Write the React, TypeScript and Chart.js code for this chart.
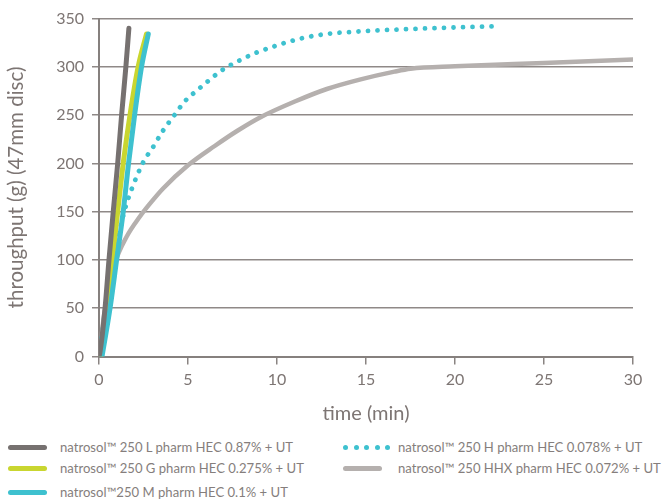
import React, { useEffect, useRef } from "react";
import { Chart, registerables } from "chart.js";

Chart.register(...registerables);

const seriesLabels = [
  "natrosol™ 250 L pharm HEC 0.87% + UT",
  "natrosol™ 250 G pharm HEC 0.275% + UT",
  "natrosol™250 M pharm HEC 0.1% + UT",
  "natrosol™ 250 H pharm HEC 0.078% + UT",
  "natrosol™ 250 HHX pharm HEC 0.072% + UT",
];

// time (min) / throughput (g)
const lTime = [0, 0.06, 0.34, 0.56, 0.8, 1.05, 1.27, 1.51, 1.68];
const lThroughput = [0, 5, 50, 100, 150, 200, 250, 300, 340];

const gTime = [0.08, 0.49, 0.75, 1.05, 1.36, 1.74, 2.2, 2.67];
const gThroughput = [0, 50, 100, 150, 200, 250, 300, 334];

const mTime = [0.17, 0.62, 0.99, 1.36, 1.66, 2.0, 2.39, 2.77];
const mThroughput = [0, 50, 100, 150, 200, 250, 300, 334];

const hTime = [0, 0.3, 0.6, 0.9, 1.08, 1.27, 1.46, 1.83, 2.48, 3.04, 3.6, 4.2, 4.81, 5.47, 6.12, 6.87, 7.84, 8.76, 9.8, 11.5, 12.8, 15, 18.8, 22.4];
const hThroughput = [0, 40, 80, 110, 124, 139, 153, 173, 201, 217, 234, 249, 264, 275, 285, 296, 306, 314, 321, 330, 334, 337, 340, 342];

const hhxTime = [0, 0.06, 0.24, 0.45, 0.9, 1.55, 2.3, 2.85, 3.6, 5, 6.5, 7.8, 9.1, 11, 12.8, 14.7, 16.6, 17.5, 20, 25, 30];
const hhxThroughput = [0, 4, 37, 62, 97, 124, 145, 158, 174, 198, 218, 234, 248, 264, 277, 287, 295, 298, 300.5, 304, 307.5];

const xTicks = [0, 5, 10, 15, 20, 25, 30];
const yTicks = [0, 50, 100, 150, 200, 250, 300, 350];

const colors = ["#767170", "#c9d630", "#3ec1cf", "#3ec1cf", "#b5b0ae"];
const textColor = "#7d7573";
const fontFamily = "Lato, 'DejaVu Sans', sans-serif";

const toPoints = (xs: number[], ys: number[]) => xs.map((x, i) => ({ x, y: ys[i] }));

export default function App() {
  const ref = useRef<HTMLCanvasElement | null>(null);

  useEffect(() => {
    document.body.style.margin = "0";
    if (!ref.current) return;
    const common = {
      pointRadius: 0,
      tension: 0.4,
      cubicInterpolationMode: "monotone" as const,
      fill: false,
      borderCapStyle: "round" as const,
      borderJoinStyle: "round" as const,
    };
    const chart = new Chart(ref.current, {
      type: "line",
      data: {
        datasets: [
          { ...common, label: seriesLabels[4], data: toPoints(hhxTime, hhxThroughput), borderColor: colors[4], borderWidth: 4.5, order: 5 },
          { ...common, label: seriesLabels[3], data: toPoints(hTime, hThroughput), borderColor: colors[3], borderWidth: 4.8, borderDash: [0.01, 9.5], order: 4 },
          { ...common, label: seriesLabels[1], data: toPoints(gTime, gThroughput), borderColor: colors[1], borderWidth: 5, order: 3 },
          { ...common, label: seriesLabels[2], data: toPoints(mTime, mThroughput), borderColor: colors[2], borderWidth: 5, order: 2 },
          { ...common, label: seriesLabels[0], data: toPoints(lTime, lThroughput), borderColor: colors[0], borderWidth: 5, order: 1 },
        ],
      },
      options: {
        animation: false,
        responsive: false,
        events: [],
        layout: { padding: { left: 0, right: 30, top: 18.5, bottom: 0 } },
        plugins: { legend: { display: false }, tooltip: { enabled: false } },
        scales: {
          x: {
            type: "linear",
            min: 0,
            max: 30,
            afterBuildTicks: (s: any) => { s.ticks = xTicks.map((v) => ({ value: v })); },
            afterFit: (s: any) => { s.height = 73.5; },
            ticks: { color: textColor, font: { family: fontFamily, size: 16 }, padding: 6 },
            grid: { drawOnChartArea: false, drawTicks: true, tickLength: 8, color: "#8a8482", lineWidth: 1.5 },
            border: { color: "#86807e", width: 2 },
            title: { display: true, text: "time (min)", color: textColor, font: { family: fontFamily, size: 20 }, padding: { top: 8, bottom: 4 } },
          },
          y: {
            type: "linear",
            min: 0,
            max: 350,
            afterBuildTicks: (s: any) => { s.ticks = yTicks.map((v) => ({ value: v })); },
            afterFit: (s: any) => { s.width = 99; },
            ticks: { color: textColor, font: { family: fontFamily, size: 16 }, padding: 8 },
            grid: { drawTicks: true, tickLength: 7, color: "#8f8987", lineWidth: 1.5 },
            border: { color: "#86807e", width: 2 },
            title: { display: true, text: "throughput (g) (47mm disc)", color: textColor, font: { family: fontFamily, size: 20.5 }, padding: { top: 4, bottom: 0 } },
          },
        },
      },
    });
    return () => chart.destroy();
  }, []);

  const solid = (c: string) => (
    <div style={{ width: 39, height: 5, borderRadius: 3, background: c }} />
  );
  const dotted = (c: string) => (
    <div style={{ display: "flex", gap: 5.5, width: 49 }}>
      {[0, 1, 2, 3, 4].map((i) => (
        <div key={i} style={{ width: 5, height: 5, borderRadius: 3, background: c }} />
      ))}
    </div>
  );
  const item = (i: number, left: number, top: number, swatch: React.ReactNode, textLeft: number) => (
    <div key={i} style={{ position: "absolute", left, top, height: 20, display: "flex", alignItems: "center" }}>
      {swatch}
      <span style={{ position: "absolute", left: textLeft, whiteSpace: "nowrap", color: "#857e7c", fontFamily, fontSize: 13.1 }}>
        {seriesLabels[i]}
      </span>
    </div>
  );

  return (
    <div style={{ position: "relative", width: 663, height: 502 }}>
      <canvas ref={ref} width={663} height={430} style={{ display: "block" }} />
      {item(0, 8, 437, solid(colors[0]), 52)}
      {item(1, 8, 458, solid(colors[1]), 52)}
      {item(2, 8, 482, solid(colors[2]), 52)}
      {item(3, 343, 437, dotted(colors[3]), 55)}
      {item(4, 343, 458, solid(colors[4]), 55)}
    </div>
  );
}
